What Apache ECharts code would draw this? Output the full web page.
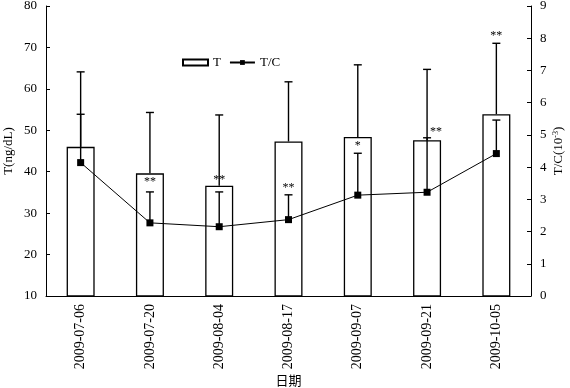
<!DOCTYPE html>
<html>
<head>
<meta charset="utf-8">
<script src="https://cdn.jsdelivr.net/npm/echarts@6/dist/echarts.min.js"></script>
<style>
html,body{margin:0;padding:0;background:#fff;}
#c{width:570px;height:388px;}
</style>
</head>
<body>
<div id="c"></div>
<script>
var categories = ['2009-07-06','2009-07-20','2009-08-04','2009-08-17','2009-09-07','2009-09-21','2009-10-05'];
var tValues = [46.0, 39.6, 36.6, 47.3, 48.4, 47.6, 53.9];
var tSD = [18.1, 14.7, 17.1, 14.4, 17.4, 17.1, 17.1];
var tcValues = [4.14, 2.27, 2.15, 2.37, 3.13, 3.22, 4.42];
var tcSD = [1.50, 0.96, 1.08, 0.77, 1.30, 1.69, 1.04];
var sigLabels = ['', '**', '**', '**', '*', '**', '**'];
var sigLevels = [null, 3.63, 3.70, 3.44, 4.76, 5.20, 8.17];
var leftTicks = {min: 10, max: 80, interval: 10};
var rightTicks = {min: 0, max: 9, interval: 1};

var FONT = '"Liberation Serif", "Times New Roman", serif';

var tErr = tValues.map(function(v, i){ return [i, v, v + tSD[i]]; });
var tcErr = tcValues.map(function(v, i){ return [i, v, v + tcSD[i]]; });
var sigData = [];
sigLabels.forEach(function(s, i){ if (s) sigData.push([i, sigLevels[i], s]); });

function errRender(params, api){
  var x = api.value(0), lo = api.value(1), hi = api.value(2);
  var p0 = api.coord([x, lo]), p1 = api.coord([x, hi]);
  var hw = 4;
  return {type:'group', children:[
    {type:'line', shape:{x1:p0[0], y1:p0[1], x2:p1[0], y2:p1[1]}, style:{stroke:'#000', lineWidth:1.4}},
    {type:'line', shape:{x1:p1[0]-hw, y1:p1[1], x2:p1[0]+hw, y2:p1[1]}, style:{stroke:'#000', lineWidth:1.4}}
  ]};
}
function sigRender(params, api){
  var p = api.coord([api.value(0), api.value(1)]);
  var idx = api.value(0);
  var dx = (idx === 5) ? 9 : 0;
  return {type:'text', x: p[0] + dx, y: p[1] + 3, style:{text: sigLabels[idx], fill:'#000', font:'12px ' + FONT, align:'center', verticalAlign:'middle'}};
}

var chart = echarts.init(document.getElementById('c'), null, {renderer:'canvas'});
chart.setOption({
  backgroundColor:'#fff',
  animation:false,
  textStyle:{fontFamily:FONT, color:'#000'},
  grid:{left:46, right:39, top:6, bottom:92, containLabel:false, outerBoundsMode:'none'},
  legend:{
    left:177, top:51, itemWidth:25, itemHeight:6, itemGap:8,
    textStyle:{fontFamily:FONT, fontSize:13, color:'#000'},
    data:[{name:'T', icon:'rect'}, {name:'T/C'}]
  },
  xAxis:{
    type:'category', data:categories,
    name:'日期', nameLocation:'middle', nameGap:78, nameMoveOverlap:false,
    nameTextStyle:{fontFamily:'"Noto Sans CJK SC", sans-serif', fontSize:13, color:'#000'},
    axisLine:{lineStyle:{color:'#000', width:1}},
    axisTick:{inside:true, length:4, lineStyle:{color:'#000'}},
    axisLabel:{rotate:90, fontSize:14, color:'#000', fontFamily:FONT, margin:8},
    splitLine:{show:false}
  },
  yAxis:[{
    type:'value', min:leftTicks.min, max:leftTicks.max, interval:leftTicks.interval,
    name:'T(ng/dL)', nameLocation:'middle', nameGap:31, nameMoveOverlap:false,
    nameTextStyle:{fontFamily:FONT, fontSize:13, color:'#000'},
    axisLine:{show:true, lineStyle:{color:'#000', width:1}},
    axisTick:{show:true, inside:true, length:4, lineStyle:{color:'#000'}},
    axisLabel:{fontSize:13, color:'#000', fontFamily:FONT, margin:9},
    splitLine:{show:false}
  },{
    type:'value', min:rightTicks.min, max:rightTicks.max, interval:rightTicks.interval,
    position:'right',
    name:'{a|T/C(10}{s|-3}{a|)}', nameLocation:'middle', nameGap:21, nameMoveOverlap:false,
    nameTextStyle:{fontFamily:FONT, fontSize:13, color:'#000',
      rich:{a:{fontFamily:FONT, fontSize:13, color:'#000'}, s:{fontFamily:FONT, fontSize:8, color:'#000', verticalAlign:'top', padding:[0,0,6,0]}}},
    axisLine:{show:true, lineStyle:{color:'#000', width:1}},
    axisTick:{show:true, inside:true, length:4, lineStyle:{color:'#000'}},
    axisLabel:{fontSize:13, color:'#000', fontFamily:FONT, margin:9},
    splitLine:{show:false}
  }],
  series:[{
    name:'T', type:'bar', data:tValues, yAxisIndex:0, barWidth:28,
    itemStyle:{color:'#fff', borderColor:'#000', borderWidth:1.3},
    z:2
  },{
    name:'tErr', type:'custom', yAxisIndex:0, data:tErr, renderItem:errRender,
    encode:{x:0, y:[1,2]}, z:3, silent:true
  },{
    name:'T/C', type:'line', yAxisIndex:1, data:tcValues,
    symbol:'rect', symbolSize:7, color:'#000',
    lineStyle:{color:'#000', width:1}, itemStyle:{color:'#000'}, z:5
  },{
    name:'tcErr', type:'custom', yAxisIndex:1, data:tcErr, renderItem:errRender,
    encode:{x:0, y:[1,2]}, z:4, silent:true
  },{
    name:'sig', type:'custom', yAxisIndex:1, data:sigData, renderItem:sigRender,
    encode:{x:0, y:1}, z:6, silent:true
  }]
});
</script>
</body>
</html>
